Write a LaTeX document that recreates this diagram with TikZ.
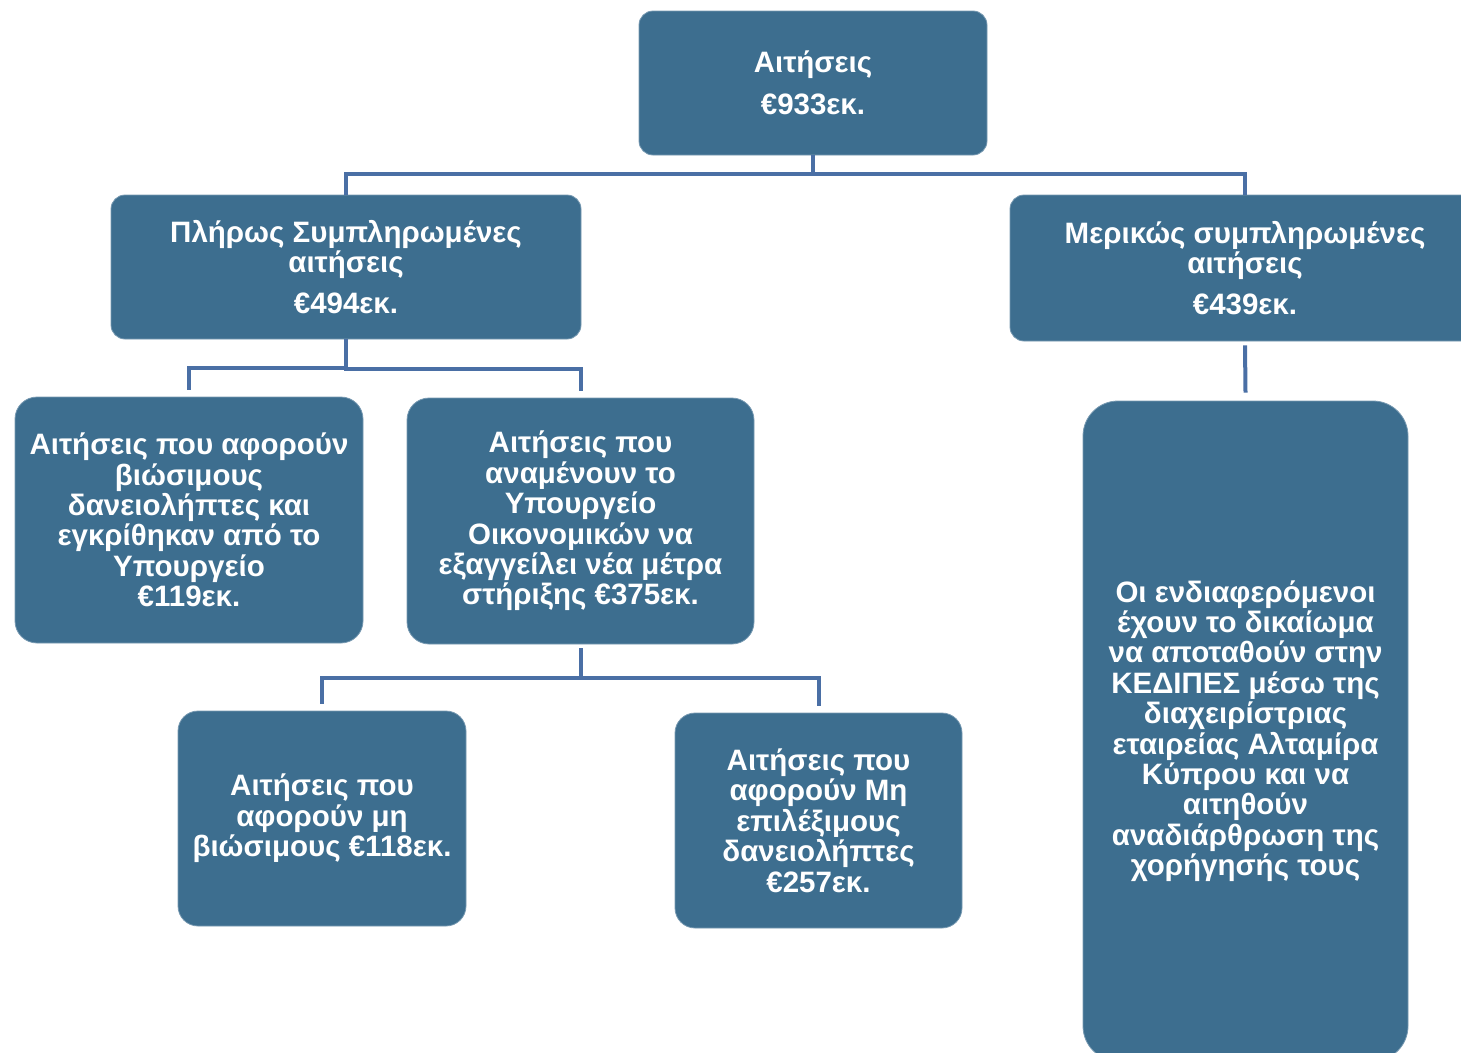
\documentclass[tikz,border=0pt]{standalone}
\usepackage{fontspec}
\setmainfont{Liberation Sans}
\usetikzlibrary{calc}
\definecolor{boxfill}{RGB}{61,110,143}
\definecolor{connc}{RGB}{74,111,165}
\begin{document}
\begin{tikzpicture}[x=1pt,y=-1pt,
  box/.style={fill=boxfill, draw=boxfill!70!white, line width=0.8pt, text=white, align=center, inner sep=0pt,
    font=\fontsize{29.5}{30.4}\selectfont\bfseries},
  conn/.style={draw=connc, line width=4pt}]
\useasboundingbox (0,0) rectangle (1461,1052);
\clip (0,0) rectangle (1461,1052);
\node[box, minimum width=348, minimum height=144, rounded corners=14] (top) at (813,83) {Αιτήσεις\\[11pt]€933εκ.};
\node[box, minimum width=470, minimum height=144, rounded corners=14] (L) at (346,267) {Πλήρως Συμπληρωμένες\\αιτήσεις\\[11pt]€494εκ.};
\node[box, minimum width=470, minimum height=146, rounded corners=14] (R) at (1245,268) {Μερικώς συμπληρωμένες\\αιτήσεις\\[11pt]€439εκ.};
\node[box, minimum width=348, minimum height=246, rounded corners=22] (A) at (189,520) {Αιτήσεις που αφορούν\\βιώσιμους\\δανειολήπτες και\\εγκρίθηκαν από το\\Υπουργείο\\€119εκ.};
\node[box, minimum width=347, minimum height=246, rounded corners=22] (B) at (580.5,521) {Αιτήσεις που\\αναμένουν το\\Υπουργείο\\Οικονομικών να\\εξαγγείλει νέα μέτρα\\στήριξης €375εκ.};
\node[box, minimum width=288, minimum height=215, rounded corners=20] (C) at (322,818.5) {Αιτήσεις που\\αφορούν μη\\βιώσιμους €118εκ.};
\node[box, minimum width=287, minimum height=215, rounded corners=20] (D) at (818.5,820.5) {Αιτήσεις που\\αφορούν Μη\\επιλέξιμους\\δανειολήπτες\\€257εκ.};
\node[box, minimum width=325, minimum height=660, rounded corners=35] (E) at (1245.5,731) {Οι ενδιαφερόμενοι\\έχουν το δικαίωμα\\να αποταθούν στην\\ΚΕΔΙΠΕΣ μέσω της\\διαχειρίστριας\\εταιρείας Αλταμίρα\\Κύπρου και να\\αιτηθούν\\αναδιάρθρωση της\\χορήγησής τους};
\draw[conn] (top.south) |- ([yshift=21]L.north) -- (L.north);
\draw[conn] (top.south) |- ([yshift=21]R.north) -- (R.north);
\draw[conn] (L.south) |- ([yshift=29]A.north) -- ([yshift=7]A.north);
\draw[conn] (L.south) |- ([yshift=29]B.north) -- ([yshift=7]B.north);
\draw[conn] ([yshift=-4]B.south) |- ([yshift=33]C.north) -- ([yshift=7]C.north);
\draw[conn] ([yshift=-4]B.south) |- ([yshift=35]D.north) -- ([yshift=7]D.north);
\draw[conn] ([yshift=-4]R.south) -- ([yshift=8]E.north);
\end{tikzpicture}
\end{document}
